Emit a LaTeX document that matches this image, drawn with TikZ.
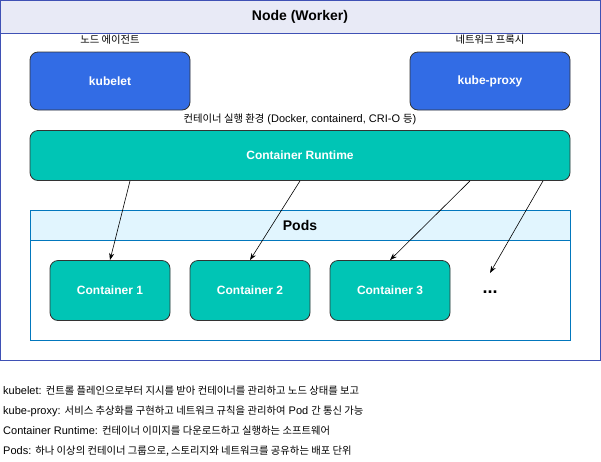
\documentclass[tikz,border=0pt]{standalone}
\usepackage{fontspec}
\setmainfont{Liberation Sans}
\newfontfamily\kr[Scale=0.94]{Noto Sans CJK KR}
\usetikzlibrary{arrows.meta}
\definecolor{kblue}{HTML}{326CE5}
\definecolor{kteal}{HTML}{00C5B5}
\definecolor{nodehead}{HTML}{E8EAF6}
\definecolor{nodeborder}{HTML}{3F51B5}
\definecolor{podhead}{HTML}{E1F5FE}
\definecolor{podborder}{HTML}{0277BD}
\definecolor{boxedge}{HTML}{333333}
\tikzset{
  comp/.style={draw=boxedge, line width=0.8pt, rounded corners=8pt, text=white, font=\fontsize{12}{14}\selectfont\bfseries, inner sep=0pt},
  smalllbl/.style={font=\fontsize{11}{13}\selectfont, inner sep=0pt},
  legend/.style={font=\fontsize{11}{13}\selectfont, anchor=west, inner sep=0pt},
  flow/.style={-{Stealth[length=7pt,width=5pt]}, line width=0.6pt, black}
}
\begin{document}
\begin{tikzpicture}[x=1pt,y=-1pt]
\useasboundingbox (0,0) rectangle (601,461);
\fill[white] (0,0) rectangle (601,461);
% Node (Worker) container
\filldraw[fill=nodehead, draw=nodeborder, line width=1pt] (0.5,0.5) rectangle (600,33);
\draw[nodeborder, line width=1pt] (0.5,0.5) rectangle (600,360);
\node[font=\fontsize{14}{16}\selectfont\bfseries, inner sep=0pt] (title) at (300,16.5) {Node (Worker)};
% labels
\node[smalllbl] (lbl1) at (110,40) {\kr 노드 에이전트};
\node[smalllbl] (lbl2) at (490,40) {\kr 네트워크 프록시};
\node[smalllbl] (lbl3) at (300,119) {{\kr 컨테이너 실행 환경} (Docker, containerd, CRI-O {\kr 등})};
% components
\node[comp, fill=kblue, minimum width=160pt, minimum height=58pt] (kubelet) at (110,81) {kubelet};
\node[comp, fill=kblue, minimum width=160pt, minimum height=58pt] (proxy) at (490,81) {kube-proxy};
\node[comp, fill=kteal, minimum width=540pt, minimum height=50pt] (runtime) at (300,155.5) {Container Runtime};
% Pods
\filldraw[fill=white, draw=podborder, line width=0.8pt] (30.5,210.5) rectangle (570,340);
\filldraw[fill=podhead, draw=podborder, line width=0.8pt] (30.5,210.5) rectangle (570,240);
\node[font=\fontsize{14}{16}\selectfont\bfseries, inner sep=0pt] (pods) at (300,225) {Pods};
\node[comp, fill=kteal, minimum width=120pt, minimum height=60pt] (c1) at (110,290.5) {Container 1};
\node[comp, fill=kteal, minimum width=120pt, minimum height=60pt] (c2) at (250,290.5) {Container 2};
\node[comp, fill=kteal, minimum width=120pt, minimum height=60pt] (c3) at (390,290.5) {Container 3};
\node[font=\fontsize{18}{20}\selectfont\bfseries, inner sep=0pt] (dots) at (490,292) {...};
\coordinate (dotsin) at (490,273);
% arrows
\draw[flow] (runtime.south -| 130,0) -- (c1.north);
\draw[flow] (runtime.south) -- (c2.north);
\draw[flow] (runtime.south -| 470,0) -- (c3.north);
\draw[flow] (runtime.south -| 543,0) -- (dotsin);
% legend
\node[legend] (l1) at (3,391) {kubelet: {\kr 컨트롤 플레인으로부터 지시를 받아 컨테이너를 관리하고 노드 상태를 보고}};
\node[legend] (l2) at (3,411) {kube-proxy: {\kr 서비스 추상화를 구현하고 네트워크 규칙을 관리하여} Pod {\kr 간 통신 가능}};
\node[legend] (l3) at (3,431) {Container Runtime: {\kr 컨테이너 이미지를 다운로드하고 실행하는 소프트웨어}};
\node[legend] (l4) at (3,451) {Pods: {\kr 하나 이상의 컨테이너 그룹으로, 스토리지와 네트워크를 공유하는 배포 단위}};
\end{tikzpicture}
\end{document}
